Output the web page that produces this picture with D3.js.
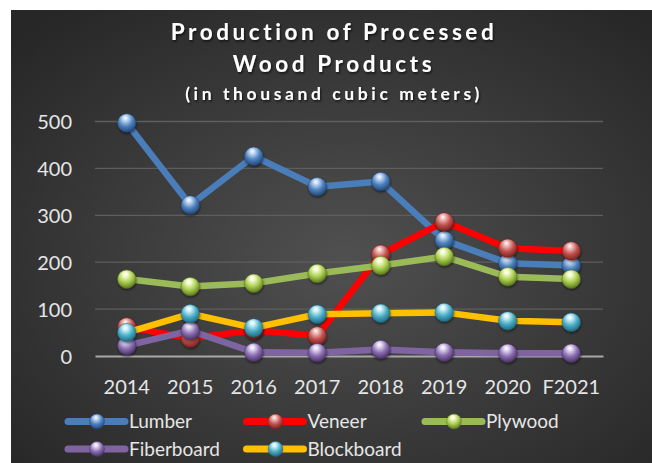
<!DOCTYPE html>
<html>
<head>
<meta charset="utf-8">
<script src="https://cdn.jsdelivr.net/npm/d3@7"></script>
<style>
  html, body { margin: 0; padding: 0; background: #ffffff; }
  svg { display: block; }
</style>
</head>
<body>
<svg id="chart" width="652" height="463"></svg>
<script>
const categories = ["2014", "2015", "2016", "2017", "2018", "2019", "2020", "F2021"];
const lumber     = [497, 322, 426, 361, 372, 247, 198, 193];
const veneer     = [62, 38, 55, 43, 217, 286, 230, 224];
const plywood    = [164, 148, 155, 176, 193, 212, 169, 164];
const fiberboard = [22, 54, 8, 7, 14, 8, 6, 6];
const blockboard = [50, 90, 60, 89, 91, 93, 75, 72];
const yTicks = [0, 100, 200, 300, 400, 500];
const titleLines = ["Production of Processed", "Wood Products"];
const subtitle = "(in thousand cubic meters)";

const series = [
  { name: "Lumber", values: lumber, line: "#4a7ebb", marker: "#4f81bd", light: "#c9def7", dark: "#22497a" },
  { name: "Veneer", values: veneer, line: "#ff0000", marker: "#c0504d", light: "#f3c4c2", dark: "#7a2220" },
  { name: "Plywood", values: plywood, line: "#9bbb59", marker: "#a9cc4f", light: "#f4fbd0", dark: "#5c7a1e" },
  { name: "Fiberboard", values: fiberboard, line: "#8064a2", marker: "#8a6db0", light: "#e6dcf5", dark: "#4a3466" },
  { name: "Blockboard", values: blockboard, line: "#ffc000", marker: "#4bacc6", light: "#d4f3fb", dark: "#1f6a80" }
];

const svg = d3.select("#chart");
const defs = svg.append("defs");

const bg = defs.append("radialGradient").attr("id", "bgGrad")
  .attr("cx", "52%").attr("cy", "55%").attr("r", "70%");
bg.append("stop").attr("offset", "0%").attr("stop-color", "#505050");
bg.append("stop").attr("offset", "100%").attr("stop-color", "#272727");

series.forEach((s, i) => {
  const g = defs.append("radialGradient").attr("id", "mg" + i)
    .attr("cx", "45%").attr("cy", "35%").attr("r", "65%")
    .attr("fx", "42%").attr("fy", "22%");
  g.append("stop").attr("offset", "0%").attr("stop-color", "#ffffff");
  g.append("stop").attr("offset", "18%").attr("stop-color", s.light);
  g.append("stop").attr("offset", "60%").attr("stop-color", s.marker);
  g.append("stop").attr("offset", "100%").attr("stop-color", s.dark);
});

const shadow = defs.append("filter").attr("id", "tshadow")
  .attr("x", "-10%").attr("y", "-20%").attr("width", "120%").attr("height", "150%");
shadow.append("feDropShadow").attr("dx", 1).attr("dy", 1.5).attr("stdDeviation", 1)
  .attr("flood-color", "#000").attr("flood-opacity", 0.7);

const mshadow = defs.append("filter").attr("id", "mshadow")
  .attr("x", "-50%").attr("y", "-50%").attr("width", "200%").attr("height", "200%");
mshadow.append("feDropShadow").attr("dx", 0.5).attr("dy", 1.5).attr("stdDeviation", 1.2)
  .attr("flood-color", "#000").attr("flood-opacity", 0.55);

svg.append("rect").attr("x", 11).attr("y", 10).attr("width", 641).attr("height", 453)
  .attr("fill", "url(#bgGrad)");

// title
const title = svg.append("g").attr("fill", "#ffffff").attr("text-anchor", "middle")
  .attr("font-family", "Lato, 'Open Sans', sans-serif").attr("font-weight", "bold")
  .attr("filter", "url(#tshadow)");
title.selectAll("text.t").data(titleLines).join("text").attr("class", "t")
  .attr("x", 334).attr("y", (d, i) => 39.5 + i * 32.5)
  .attr("font-size", 22.5).attr("letter-spacing", 3.6).text(d => d);
title.append("text").attr("x", 334).attr("y", 99.5)
  .attr("font-size", 17.5).attr("letter-spacing", 3.6).text(subtitle);

// scales
const x = d3.scaleBand().domain(categories).range([95, 603]).padding(0);
const y = d3.scaleLinear().domain([0, 500]).range([356, 121.5]);
const cx = d => x(d) + x.bandwidth() / 2;

// gridlines
svg.append("g").selectAll("line").data(yTicks.filter(t => t > 0)).join("line")
  .attr("x1", 95).attr("x2", 603).attr("y1", d => y(d)).attr("y2", d => y(d))
  .attr("stroke", "#5e5e5e").attr("stroke-width", 1.3);

// y axis
const yAxis = svg.append("g").attr("transform", "translate(95,0)")
  .call(d3.axisLeft(y).tickValues(yTicks).tickSize(0).tickPadding(23).tickFormat(d3.format("d")));
yAxis.select(".domain").remove();
yAxis.selectAll("text").attr("fill", "#e6e6e6").attr("font-size", 20)
  .attr("font-family", "Lato, 'Open Sans', sans-serif").attr("dy", "0.35em");

// x axis
const xAxis = svg.append("g").attr("transform", "translate(0,356)")
  .call(d3.axisBottom(x).tickSize(0).tickPadding(0));
xAxis.select(".domain").attr("stroke", "#a8a8a8").attr("stroke-width", 2.2);
xAxis.selectAll("text").attr("fill", "#e6e6e6").attr("font-size", 20)
  .attr("font-family", "Lato, 'Open Sans', sans-serif").attr("y", 38).attr("dy", 0);

// series
const lineGen = d3.line().x((d, i) => cx(categories[i])).y(d => y(d));
series.forEach((s, i) => {
  const g = svg.append("g");
  g.append("path").datum(s.values).attr("d", lineGen)
    .attr("fill", "none").attr("stroke", s.line).attr("stroke-width", 6.5)
    .attr("stroke-linejoin", "round").attr("stroke-linecap", "round");
  g.selectAll("circle").data(s.values).join("circle")
    .attr("cx", (d, j) => cx(categories[j])).attr("cy", d => y(d)).attr("r", 9.2)
    .attr("fill", "url(#mg" + i + ")").attr("stroke", s.dark).attr("stroke-opacity", 0.6)
    .attr("stroke-width", 0.8).attr("filter", "url(#mshadow)");
});

// legend
const legend = svg.append("g").attr("font-family", "Lato, 'Open Sans', sans-serif");
const item = legend.selectAll("g").data(series).join("g")
  .attr("transform", (d, i) => `translate(${68 + (i % 3) * 178.5},${i < 3 ? 421.5 : 449})`);
item.append("line").attr("x1", 0).attr("x2", 57).attr("y1", 0).attr("y2", 0)
  .attr("stroke", d => d.line).attr("stroke-width", 7).attr("stroke-linecap", "round");
item.append("circle").attr("cx", 29).attr("cy", 0).attr("r", 7.5)
  .attr("fill", (d, i) => "url(#mg" + i + ")").attr("stroke", d => d.dark).attr("stroke-opacity", 0.6)
  .attr("stroke-width", 0.8);
item.append("text").attr("x", 61).attr("y", 0).attr("dy", "0.35em")
  .attr("fill", "#e6e6e6").attr("font-size", 19).text(d => d.name);
</script>
</body>
</html>
